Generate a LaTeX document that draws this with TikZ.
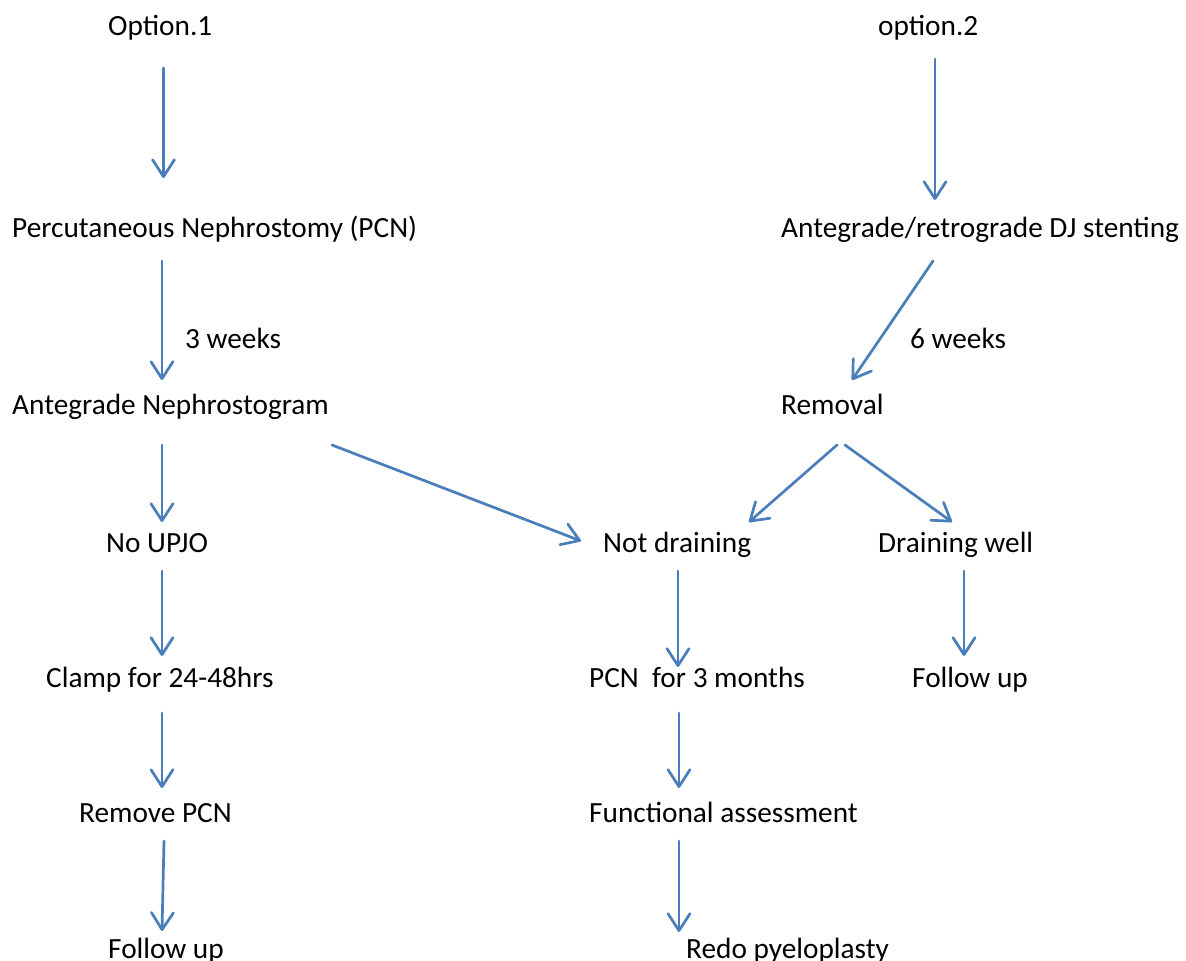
\documentclass[tikz,border=0pt]{standalone}
\usepackage{fontspec}
\setmainfont{Carlito}
\usetikzlibrary{arrows.meta}
\definecolor{arr}{HTML}{4A7EBB}
\begin{document}
\begin{tikzpicture}[x=1pt,y=-1pt,
  txt/.style={anchor=base west,inner sep=0pt,font=\fontsize{29.3}{35}\selectfont},
  conn/.style={draw=arr,line width=2.7pt,line cap=round,line join=round,
    -{Straight Barb[length=17pt,width=22pt,line cap=round,line join=round]}}]
\useasboundingbox (0,0) rectangle (1186,961);
\fill[white] (0,0) rectangle (1186,961);
% texts
\node[txt] (opt1) at (108,35) {Option.1};
\node[txt] (opt2) at (878,35) {option.2};
\node[txt] (pcn) at (12,237) {Percutaneous Nephrostomy (PCN)};
\node[txt] (dj) at (781,237) {Antegrade/retrograde DJ stenting};
\node[txt] (w3) at (185,348) {3 weeks};
\node[txt] (w6) at (910,348) {6 weeks};
\node[txt] (ang) at (12,414) {Antegrade Nephrostogram};
\node[txt] (rem) at (781,414) {Removal};
\node[txt] (upjo) at (106,552) {No UPJO};
\node[txt] (notd) at (603,552) {Not draining};
\node[txt] (drw) at (878,552) {Draining well};
\node[txt] (clamp) at (46,687) {Clamp for 24-48hrs};
\node[txt] (pcn3) at (589,687) {PCN\ \ for 3 months};
\node[txt] (fur) at (912,687) {Follow up};
\node[txt] (rpcn) at (79,822) {Remove PCN};
\node[txt] (func) at (589,822) {Functional assessment};
\node[txt] (ful) at (108,958) {Follow up};
\node[txt] (redo) at (686,958) {Redo pyeloplasty};
% connector end points
\coordinate (o1s) at (163.5,68);  \coordinate (o1e) at (163.5,178);
\coordinate (o2s) at (935,59);    \coordinate (o2e) at (935,200);
\coordinate (p1s) at (162,261);   \coordinate (p1e) at (162,380);
\coordinate (d1s) at (933,261);   \coordinate (d1e) at (852,380);
\coordinate (a1s) at (162,445);   \coordinate (a1e) at (162,522);
\coordinate (a2s) at (332,445);   \coordinate (a2e) at (581,541);
\coordinate (r1s) at (837,445);   \coordinate (r1e) at (749,522);
\coordinate (r2s) at (845,445);   \coordinate (r2e) at (952,522);
\coordinate (n1s) at (162,571);   \coordinate (n1e) at (162,656);
\coordinate (nd1s) at (678,571);  \coordinate (nd1e) at (678,667);
\coordinate (dw1s) at (964,571);  \coordinate (dw1e) at (964,656);
\coordinate (c1s) at (162,713);   \coordinate (c1e) at (162,788);
\coordinate (pc1s) at (679,713);  \coordinate (pc1e) at (679,788);
\coordinate (rm1s) at (164,841);  \coordinate (rm1e) at (162,931);
\coordinate (fa1s) at (679,841);  \coordinate (fa1e) at (679,932);
% connectors
\draw[conn] (o1s) -- (o1e);
\draw[conn] (o2s) -- (o2e);
\draw[conn] (p1s) -- (p1e);
\draw[conn] (d1s) -- (d1e);
\draw[conn] (a1s) -- (a1e);
\draw[conn] (a2s) -- (a2e);
\draw[conn] (r1s) -- (r1e);
\draw[conn] (r2s) -- (r2e);
\draw[conn] (n1s) -- (n1e);
\draw[conn] (nd1s) -- (nd1e);
\draw[conn] (dw1s) -- (dw1e);
\draw[conn] (c1s) -- (c1e);
\draw[conn] (pc1s) -- (pc1e);
\draw[conn] (rm1s) -- (rm1e);
\draw[conn] (fa1s) -- (fa1e);
\end{tikzpicture}
\end{document}
